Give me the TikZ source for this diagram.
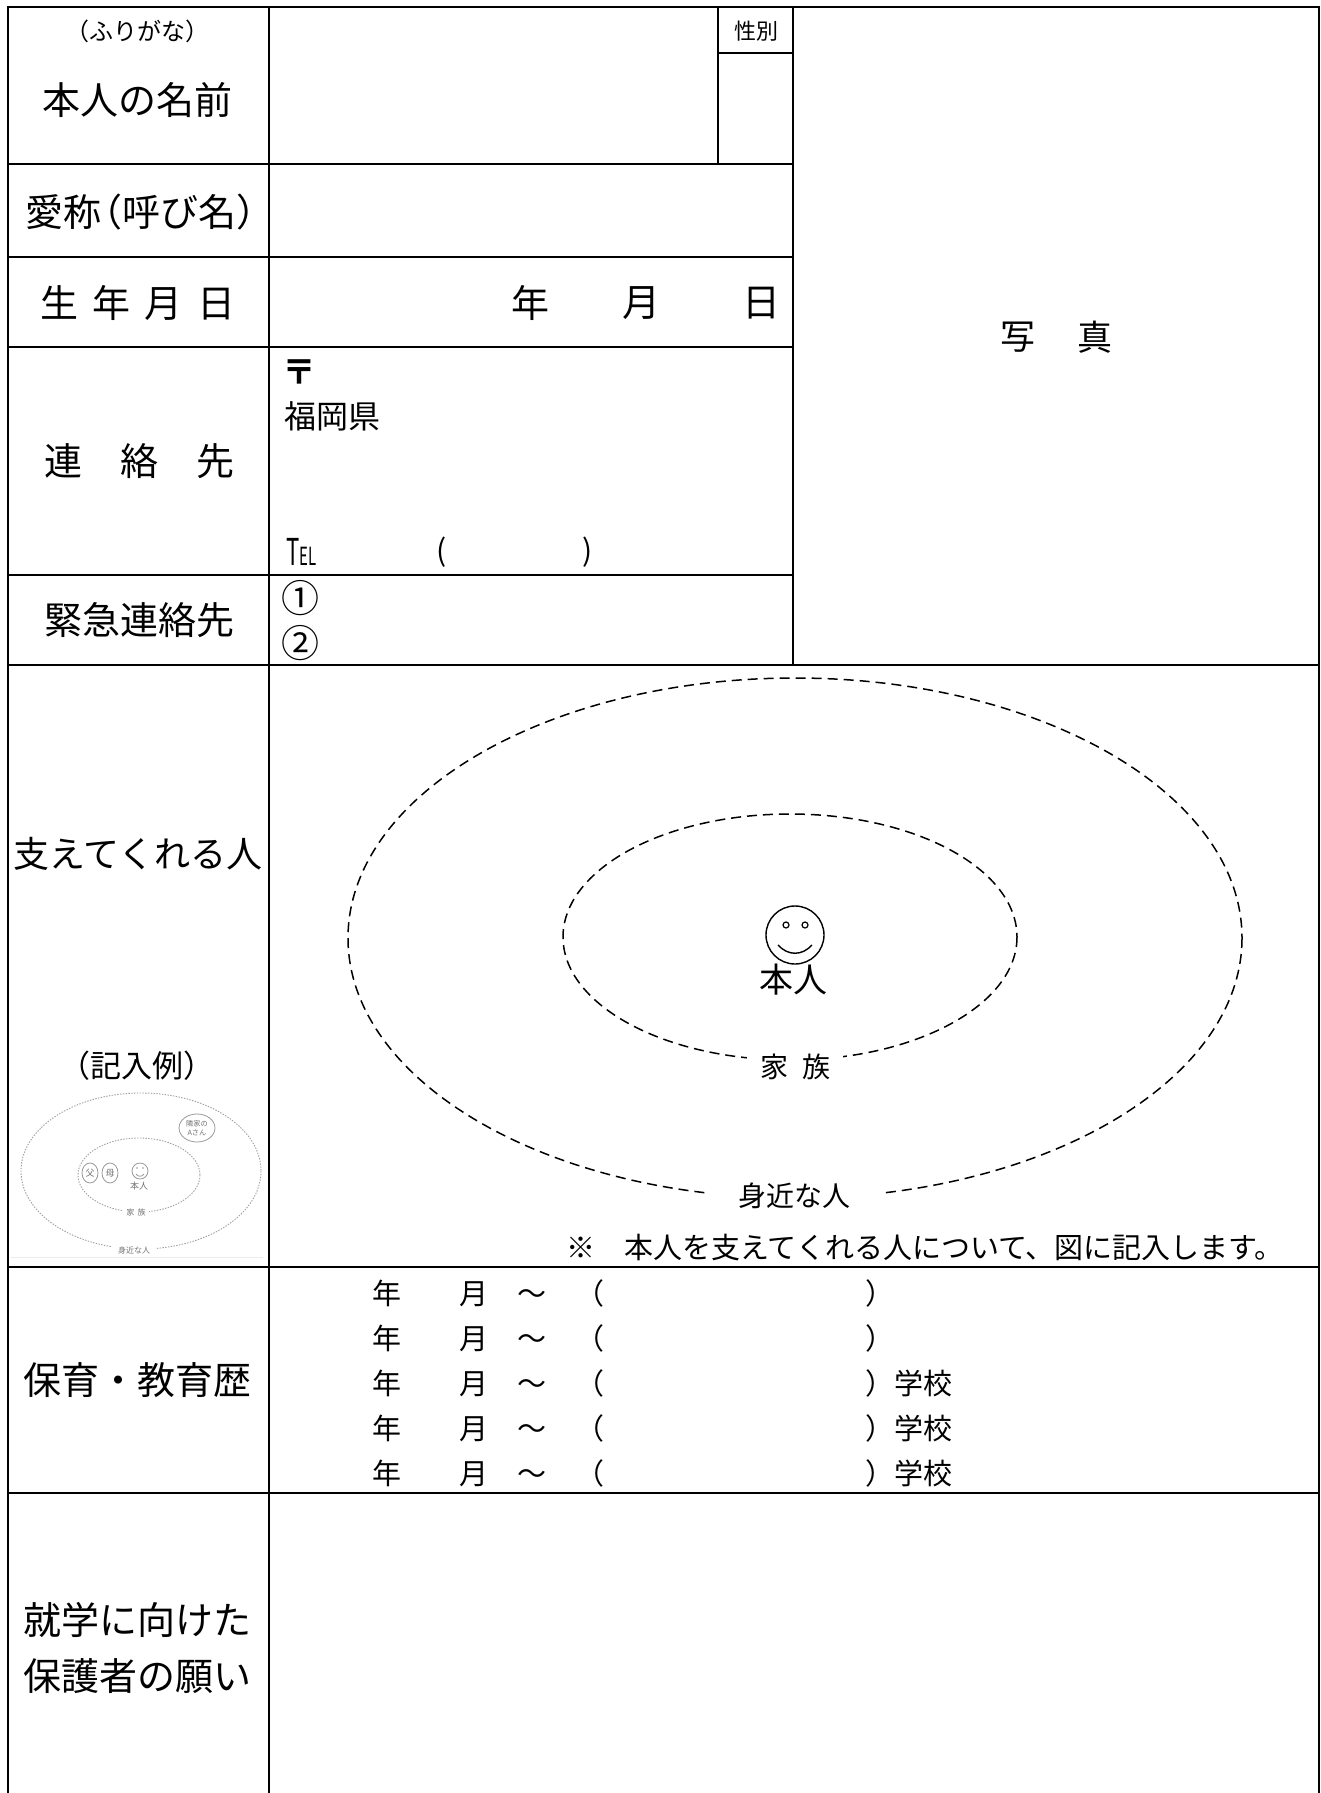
\documentclass[tikz,border=0pt]{standalone}
\usepackage{fontspec}
\setmainfont{Noto Sans CJK JP}
\usepackage{graphicx}
\begin{document}
\begin{tikzpicture}[x=0.5pt,y=-0.5pt,
  tbl/.style={line width=1.25pt, line cap=rect},
  lbl/.style={inner sep=0pt, font=\fontsize{19}{22}\selectfont},
  mid/.style={inner sep=0pt, font=\fontsize{16}{18}\selectfont},
  sml/.style={inner sep=0pt, font=\fontsize{14.5}{16}\selectfont},
  dsh/.style={line width=0.75pt, dash pattern=on 5pt off 3pt},
  gapbox/.style={fill=white, inner ysep=2pt, font=\fontsize{14}{16}\selectfont},
  exd/.style={line width=0.45pt, gray!75, dash pattern=on 0.7pt off 0.7pt},
  exs/.style={line width=0.4pt, gray!80},
  ext/.style={inner sep=0pt, text=gray!90!black}
]
\useasboundingbox (0,0) rectangle (1321,1793);
\fill[white] (0,0) rectangle (1321,1793);

% ---------- table grid ----------
\draw[tbl] (8,1793) -- (8,7) -- (1319,7) -- (1319,1793);
\draw[tbl] (269,7) -- (269,1793);
\draw[tbl] (718,7) -- (718,164);
\draw[tbl] (793,7) -- (793,665);
\draw[tbl] (718,53) -- (793,53);
\foreach \yy in {164,257,347,575} \draw[tbl] (8,\yy) -- (793,\yy);
\foreach \yy in {665,1267,1493} \draw[tbl] (8,\yy) -- (1319,\yy);

% ---------- header rows ----------
\node[inner sep=0pt, font=\fontsize{12}{12}\selectfont] (furigana) at (137,31) {（ふりがな）};
\node[lbl] (name) at (137,100) {本人の名前};
\node[inner sep=0pt, font=\fontsize{11}{11}\selectfont] (sex) at (756,31) {性別};
\node[lbl] (nick) at (141,212) {愛称\kern-0.45em（呼び名）\kern-0.45em};
\node[lbl] (birth) at (138,303) {生\hspace{0.37em}年\hspace{0.37em}月\hspace{0.37em}日};
\node[lbl] (byear) at (530,303) {年};
\node[lbl] (bmonth) at (641,303) {月};
\node[lbl] (bday) at (761,303) {日};

\node[lbl] (contact) at (139,461) {連　絡　先};
\node[inner sep=0pt, anchor=west, font=\fontsize{17}{18}\selectfont\bfseries] (postal) at (282,372) {〒};
\node[mid, anchor=west] (pref) at (284,416) {福岡県};
\node[inner sep=0pt, anchor=base west] (tel) at (286,565)
  {\scalebox{0.6}[1]{\fontsize{18.5}{18.5}\selectfont T\fontsize{12.5}{12.5}\selectfont EL}};
\node[inner sep=0pt, font=\fontsize{15}{15}\selectfont] (telL) at (442,552) {(};
\node[inner sep=0pt, font=\fontsize{15}{15}\selectfont] (telR) at (588,552) {)};

\node[lbl] (emerg) at (139,620) {緊急連絡先};
\node[inner sep=0pt, anchor=west, font=\fontsize{19}{19}\selectfont] (e1) at (281,598) {①};
\node[inner sep=0pt, anchor=west, font=\fontsize{19}{19}\selectfont] (e2) at (281,643) {②};

\node[inner sep=0pt, font=\fontsize{17.5}{18}\selectfont] (photo1) at (1018,337) {写};
\node[inner sep=0pt, font=\fontsize{17.5}{18}\selectfont] (photo2) at (1095,337) {真};

% ---------- supporters ----------
\node[inner sep=0pt, font=\fontsize{18}{20}\selectfont] (support) at (138,854) {支えてくれる人};
\node[inner sep=0pt, font=\fontsize{15.5}{17}\selectfont] (example) at (137,1066) {（記入例）};

\draw[dsh] (795,938) ellipse [x radius=447, y radius=260];
\draw[dsh] (790,937) ellipse [x radius=227, y radius=123];

\draw[line width=0.7pt] (795,935) circle [radius=29];
\draw[line width=0.6pt] (786,925) circle [radius=3];
\draw[line width=0.6pt] (805,925) circle [radius=3];
\draw[line width=0.7pt] (778,945) .. controls (788,956) and (802,956) .. (812,945);
\node[inner sep=0pt, font=\fontsize{17}{18}\selectfont] (self) at (793,980) {本人};

\node[gapbox, inner xsep=6.5pt] (family) at (795,1067) {家\hspace{0.5em}族};
\node[gapbox, inner xsep=16pt] (near) at (794,1196) {身近な人};
\node[sml, anchor=west] (note) at (566,1248) {※　本人を支えてくれる人について、図に記入します。};

% ---------- example (small) ----------
\draw[exd] (141,1171) ellipse [x radius=120, y radius=78];
\draw[exd] (139,1175) ellipse [x radius=61, y radius=37];
\draw[exs] (197,1128) ellipse [x radius=18, y radius=14];
\node[ext, align=center, font=\fontsize{3.6}{4.6}\selectfont] (neigh) at (197,1128) {隣家の\\Aさん};
\draw[exs] (90,1173) ellipse [x radius=8, y radius=10];
\node[ext, font=\fontsize{4.5}{5}\selectfont] (father) at (90,1173) {父};
\draw[exs] (110,1173) ellipse [x radius=8, y radius=10];
\node[ext, font=\fontsize{4.5}{5}\selectfont] (mother) at (110,1173) {母};
\draw[exs] (140,1171) circle [radius=8];
\fill[gray!80] (137,1168) circle [radius=0.9];
\fill[gray!80] (143,1168) circle [radius=0.9];
\draw[exs] (136,1174) .. controls (138,1177) and (142,1177) .. (144,1174);
\node[ext, font=\fontsize{4.5}{5}\selectfont] (exself) at (139,1186) {本人};
\node[ext, fill=white, inner xsep=1.5pt, font=\fontsize{4}{5}\selectfont] (exfam) at (136,1212) {家\hspace{0.4em}族};
\node[ext, fill=white, inner xsep=3pt, font=\fontsize{4}{5}\selectfont] (exnear) at (134,1250) {身近な人};
\draw[gray!15, line width=0.4pt] (10,1257) -- (263,1257);

% ---------- education ----------
\foreach \yy in {1293,1338} \node[sml, anchor=west] at (372,\yy) {年　　月　～　（　　　　　　　　　）};
\foreach \yy in {1383,1428,1473} \node[sml, anchor=west] at (372,\yy) {年　　月　～　（　　　　　　　　　）学校};
\node[lbl] (edu) at (138,1380) {保育・教育歴};

% ---------- wishes ----------
\node[lbl, align=center, font=\fontsize{19}{28}\selectfont] (wish) at (138,1648) {就学に向けた\\保護者の願い};
\end{tikzpicture}
\end{document}
